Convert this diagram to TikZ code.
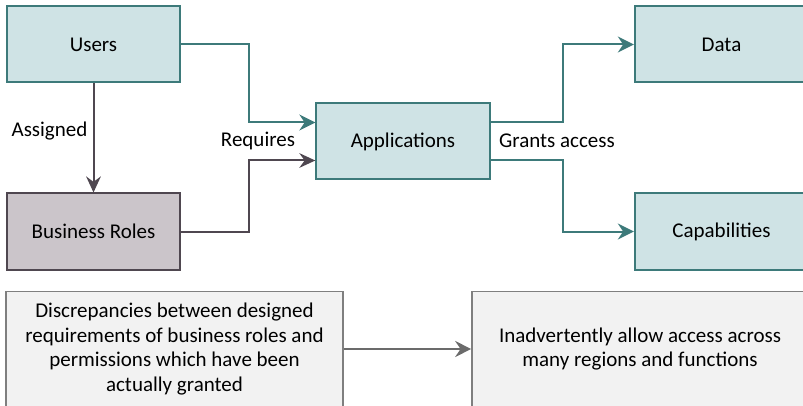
\documentclass[tikz,border=0pt]{standalone}
\usepackage{fontspec}
\setmainfont{Carlito}
\usetikzlibrary{arrows.meta}

\definecolor{tealline}{HTML}{3D7A7A}
\definecolor{tealfill}{HTML}{CFE3E5}
\definecolor{roleline}{HTML}{4F4750}
\definecolor{rolefill}{HTML}{CBC5CA}
\definecolor{noteline}{HTML}{7F7F7F}
\definecolor{notefill}{HTML}{F2F2F2}
\definecolor{notearrow}{HTML}{6B6B6B}

\tikzset{
  box/.style={line width=1.5pt, minimum width=130pt, minimum height=57pt, inner sep=0pt, align=center},
  tealbox/.style={box, draw=tealline, fill=tealfill},
  rolebox/.style={box, draw=roleline, fill=rolefill},
  notebox/.style={box, draw=noteline, fill=notefill, line width=1.2pt, minimum height=86pt},
  tealarrow/.style={draw=tealline, line width=1.5pt, -{Stealth[length=12pt,width=12pt,inset=4pt]}},
  rolearrow/.style={draw=roleline, line width=1.5pt, -{Stealth[length=12pt,width=11pt,inset=4pt]}},
  notearrow/.style={draw=notearrow, line width=1.5pt, -{Stealth[length=12pt,width=12pt,inset=4pt]}},
}

\begin{document}
\begin{tikzpicture}[x=0.75pt, y=-0.75pt, font=\fontsize{15.75}{18}\selectfont]
\useasboundingbox (0,0) rectangle (803,406);

% top row
\node[tealbox] (users) at (93.5,44.5) {Users};
\node[rolebox] (roles) at (93.5,231.5) {Business Roles};
\node[tealbox] (apps) at (403,141.5) {Applications};
\node[tealbox] (data) at (721.5,44.5) {Data};
\node[tealbox] (caps) at (721.5,231.5) {Capabilities};

\draw[rolearrow] (users.south) -- (roles.north) node[pos=0.44, left=0.5pt] (assigned) {Assigned};
\draw[tealarrow] (users.east) -- ++(68,0) |- ([yshift=14.25pt]apps.west);
\draw[rolearrow] (roles.east) -- ++(68,0) |- ([yshift=-14.25pt]apps.west);
\node (requires) at (258,141) {Requires};

\draw[tealarrow] ([yshift=14.25pt]apps.east) -- ++(72,0) |- (data.west);
\draw[tealarrow] ([yshift=-14.25pt]apps.east) -- ++(72,0) |- (caps.west);
\node (grants) at (557,141) {Grants access};

% bottom row
\node[notebox, minimum width=252.5pt, font=\fontsize{15.75}{18.3}\selectfont] (discrep) at (174.5,349)
  {Discrepancies between designed\\requirements of business roles and\\permissions which have been\\actually granted};
\node[notebox, minimum width=252pt, font=\fontsize{15.75}{18.3}\selectfont] (access) at (640,349)
  {Inadvertently allow access across\\many regions and functions};
\draw[notearrow] (discrep.east) -- (access.west);
\end{tikzpicture}
\end{document}
